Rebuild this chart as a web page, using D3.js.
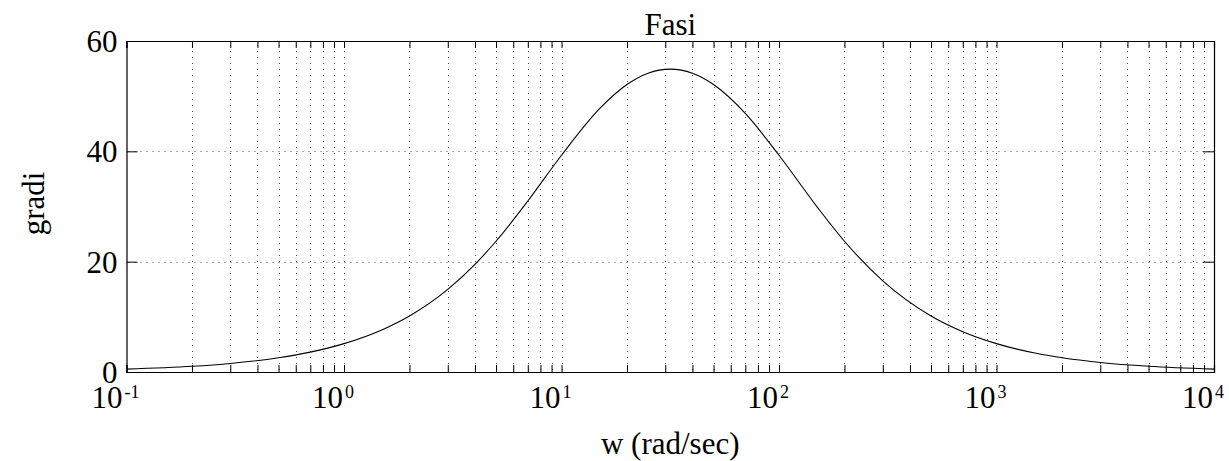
<!DOCTYPE html>
<html lang="it">
<head>
    <meta charset="UTF-8">
    <title>Fasi</title>
    <script src="https://d3js.org/d3.v7.min.js"></script>
    <style>
        body {
            margin: 0;
            background: #ffffff;
        }
    </style>
</head>
<body>
<div id="chart"></div>

<script>
    // frequenze (rad/sec) e fase (gradi)
    const freqs = [0.1, 0.2, 0.3, 0.5, 0.7, 1, 1.5, 2, 3, 4, 5, 7, 10, 15, 20, 25, 31.6,
        40, 50, 70, 100, 150, 200, 300, 500, 700, 1000, 1500, 2000, 3000, 5000, 10000];
    const phase = [0.52, 1.03, 1.55, 2.58, 3.6, 5.14, 7.67, 10.16, 14.98, 19.51, 23.7, 30.99, 39.29, 47.78, 52.12, 54.16, 54.9,
        54.16, 52.12, 46.88, 39.29, 29.88, 23.7, 16.52, 10.16, 7.31, 5.14, 3.44, 2.58, 1.72, 1.03, 0.52];

    const yTicks = [0, 20, 40, 60];
    const xDecades = [-1, 0, 1, 2, 3, 4];

    const width = 1229, height = 461;
    const margin = { top: 41, right: 15, bottom: 89, left: 126.5 };
    const serif = '"Liberation Serif", "Times New Roman", serif';

    const svg = d3.select('#chart').append('svg')
        .attr('width', width)
        .attr('height', height)
        .style('font-family', serif);

    const x = d3.scaleLog()
        .domain([0.1, 10000])
        .range([margin.left, width - margin.right]);

    const y = d3.scaleLinear()
        .domain([0, 60])
        .range([height - margin.bottom, margin.top]);

    // tutte le tacche logaritmiche (maggiori e minori)
    const logTicks = [];
    xDecades.forEach(e => {
        for (let m = 1; m <= 9; m++) {
            const v = m * Math.pow(10, e);
            if (v <= 10000) logTicks.push(v);
        }
    });

    const grid = svg.append('g').attr('class', 'grid');

    grid.selectAll('line.vx')
        .data(logTicks.filter(v => v > 0.1 && v < 10000))
        .enter().append('line')
        .attr('class', 'vx')
        .attr('x1', d => Math.round(x(d)) + 0.5)
        .attr('x2', d => Math.round(x(d)) + 0.5)
        .attr('y1', y(60) + 4)
        .attr('y2', y(0))
        .attr('stroke', '#555')
        .attr('stroke-width', 1)
        .attr('stroke-dasharray', '1,5');

    grid.selectAll('line.hy')
        .data(yTicks.filter(v => v > 0 && v < 60))
        .enter().append('line')
        .attr('class', 'hy')
        .attr('x1', x(0.1) + 2)
        .attr('x2', x(10000))
        .attr('y1', d => Math.round(y(d)) + 0.5)
        .attr('y2', d => Math.round(y(d)) + 0.5)
        .attr('stroke', '#555')
        .attr('stroke-width', 1)
        .attr('stroke-dasharray', '1,5');

    // curva di fase
    const line = d3.line()
        .x((d, i) => x(freqs[i]))
        .y(d => y(d))
        .curve(d3.curveMonotoneX);

    svg.append('path')
        .datum(phase)
        .attr('d', line)
        .attr('fill', 'none')
        .attr('stroke', '#000')
        .attr('stroke-width', 1.1);

    // assi con tacche interne, sopra/sotto e destra/sinistra
    const xBottom = d3.axisBottom(x).tickValues(logTicks).tickSize(-7).tickFormat('');
    const xTop = d3.axisTop(x).tickValues(logTicks).tickSize(-7).tickFormat('');
    const yLeft = d3.axisLeft(y).tickValues(yTicks).tickSize(-11).tickFormat('');
    const yRight = d3.axisRight(y).tickValues(yTicks).tickSize(-11).tickFormat('');

    svg.append('g').attr('transform', `translate(0,${y(0)})`).call(xBottom);
    svg.append('g').attr('transform', `translate(0,${y(60)})`).call(xTop);
    svg.append('g').attr('transform', `translate(${x(0.1)},0)`).call(yLeft);
    svg.append('g').attr('transform', `translate(${x(10000)},0)`).call(yRight);

    svg.selectAll('.domain').attr('stroke', '#000').attr('stroke-width', 1.2);
    svg.selectAll('.tick line').attr('stroke', '#000');

    // etichette asse y
    svg.selectAll('text.ylab')
        .data(yTicks)
        .enter().append('text')
        .attr('class', 'ylab')
        .attr('x', x(0.1) - 9)
        .attr('y', d => y(d) + 11)
        .attr('text-anchor', 'end')
        .style('font-size', '31px')
        .text(d => d);

    // etichette asse x: 10^n
    const xl = svg.selectAll('text.xlab')
        .data(xDecades)
        .enter().append('text')
        .attr('class', 'xlab')
        .attr('x', d => x(Math.pow(10, d)) - 11)
        .attr('y', 408)
        .attr('text-anchor', 'middle')
        .style('font-size', '31px');

    xl.append('tspan').text('10');
    xl.append('tspan')
        .attr('dx', 2)
        .attr('dy', -10)
        .style('font-size', '18px')
        .text(d => d);

    svg.append('text')
        .attr('x', (x(0.1) + x(10000)) / 2)
        .attr('y', 35)
        .attr('text-anchor', 'middle')
        .style('font-size', '31px')
        .text('Fasi');

    svg.append('text')
        .attr('x', (x(0.1) + x(10000)) / 2)
        .attr('y', 454)
        .attr('text-anchor', 'middle')
        .style('font-size', '31px')
        .text('w (rad/sec)');

    svg.append('text')
        .attr('transform', `translate(44,${(y(0) + y(60)) / 2 - 3}) rotate(-90)`)
        .attr('text-anchor', 'middle')
        .style('font-size', '31px')
        .text('gradi');
</script>
</body>
</html>
